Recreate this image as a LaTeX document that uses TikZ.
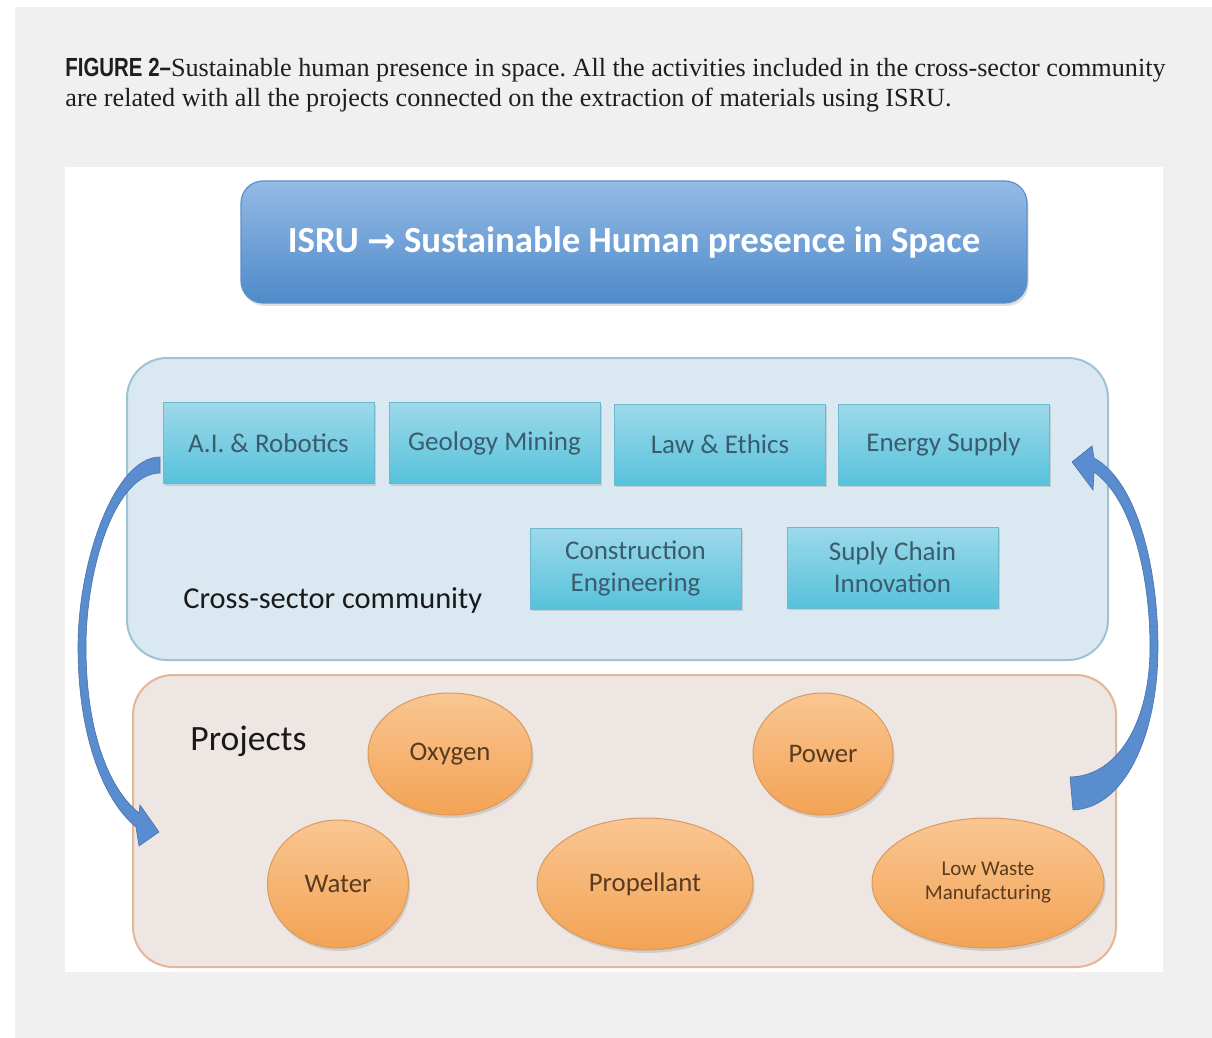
\documentclass[tikz,border=0pt]{standalone}
\usepackage{fontspec}
\setmainfont{Liberation Serif}
\newfontfamily\carlito{Carlito}
\newfontfamily\capfont{Liberation Sans}[FakeStretch=0.78]
\newfontfamily\arrowfont{DejaVu Sans}
\usetikzlibrary{shapes.geometric,shadows}
\frenchspacing

\definecolor{pagegray}{HTML}{F0F0F0}
\definecolor{titletop}{HTML}{95BAE5}
\definecolor{titlebot}{HTML}{4E8ACA}
\definecolor{titledraw}{HTML}{5E90C8}
\definecolor{commfill}{HTML}{DAE9F1}
\definecolor{commdraw}{HTML}{9DC3D5}
\definecolor{celltop}{HTML}{9DD9EA}
\definecolor{cellbot}{HTML}{57C2DB}
\definecolor{celldraw}{HTML}{6CB8CE}
\definecolor{celltext}{HTML}{3A5C6C}
\definecolor{projfill}{HTML}{EEE6E2}
\definecolor{projdraw}{HTML}{E5B597}
\definecolor{elltop}{HTML}{F9C692}
\definecolor{ellbot}{HTML}{F3A354}
\definecolor{elldraw}{HTML}{D99A5C}
\definecolor{elltext}{HTML}{5A3B1F}
\definecolor{arrowblue}{HTML}{5A8DD0}
\definecolor{captioncol}{HTML}{1E1E1E}

\tikzset{
  captext/.style={anchor=base west, inner sep=0pt, text=captioncol,
    font=\fontsize{13.1}{16}\selectfont},
  titlebox/.style={rectangle, rounded corners=11pt, draw=titledraw, line width=0.6pt,
    top color=titletop, bottom color=titlebot,
    minimum width=393pt, minimum height=61pt, text=white,
    font=\carlito\bfseries\fontsize{18.4}{22}\selectfont,
    drop shadow={opacity=0.25, shadow xshift=0.8pt, shadow yshift=-1.5pt}},
  panel/.style={rectangle, rounded corners=20pt, line width=1pt, inner sep=0pt},
  cell/.style={rectangle, draw=celldraw, line width=0.5pt,
    top color=celltop, bottom color=cellbot, text=celltext,
    minimum width=105.5pt, minimum height=40.5pt, inner sep=0pt, align=center,
    font=\carlito\fontsize{13.5}{16}\selectfont,
    drop shadow={opacity=0.25, shadow xshift=0.8pt, shadow yshift=-1.2pt}},
  proj/.style={ellipse, draw=elldraw, line width=0.5pt,
    top color=elltop, bottom color=ellbot, text=elltext, inner sep=0pt, align=center,
    font=\carlito\fontsize{13.4}{16}\selectfont,
    drop shadow={opacity=0.25, shadow xshift=0.8pt, shadow yshift=-1.5pt}},
  grouplabel/.style={anchor=west, inner sep=0pt, text=black!90},
  blockarrow/.style={fill=arrowblue, draw=arrowblue!80!black, line width=0.3pt}
}

\begin{document}
\begin{tikzpicture}[x=0.5pt,y=-0.5pt]
\useasboundingbox (0,0) rectangle (1212,1038);
% page and figure panel
\fill[white] (0,0) rectangle (1212,1038);
\fill[pagegray] (15,7) rectangle (1212,1038);
\fill[white] (65,167) rectangle (1163,972);

% caption
\node[captext] (cap1) at (65,77)
  {{\capfont\bfseries FIGURE 2–}Sustainable human presence in space. All the activities included in the cross-sector community};
\node[captext] (cap2) at (65,107)
  {are related with all the projects connected on the extraction of materials using ISRU.};

% headline
\node[titlebox] (title) at (634,242)
  {ISRU {\arrowfont\bfseries\fontsize{17}{20}\selectfont →} Sustainable Human presence in Space};

% group panels
\node[panel, draw=commdraw, fill=commfill, minimum width=490.5pt, minimum height=151pt]
  (community) at (617.5,509) {};
\node[panel, draw=projdraw, fill=projfill, minimum width=491.5pt, minimum height=146pt]
  (projects) at (624.5,821) {};

% cross-sector activities
\node[cell] (ai)     at (268.5,443)   {A.I. \& Robotics};
\node[cell] (geo)    at (494.5,443)   {Geology Mining};
\node[cell] (law)    at (720,444.5)   {Law \& Ethics};
\node[cell] (energy) at (943.5,444.5) {Energy Supply};
\node[cell] (cons)   at (635.5,568.5) {Construction\\Engineering};
\node[cell] (supply) at (892.5,567.5) {Suply Chain\\Innovation};
\node[grouplabel, font=\carlito\fontsize{15.2}{18}\selectfont] (commlabel) at (183,600) {Cross-sector community};

% projects
\node[grouplabel, font=\carlito\fontsize{17.8}{20}\selectfont] (projlabel) at (190,741) {Projects};
\node[proj, minimum width=82pt, minimum height=61pt]  (oxygen)     at (450,754) {Oxygen};
\node[proj, minimum width=70pt, minimum height=61pt]  (power)      at (823,754) {Power};
\node[proj, minimum width=70.5pt, minimum height=64pt] (water)     at (338,884) {Water};
\node[proj, minimum width=108pt, minimum height=66pt] (propellant) at (645,884) {Propellant};
\node[proj, minimum width=116pt, minimum height=65pt, font=\carlito\fontsize{10.5}{12}\selectfont]
  (lowwaste) at (988,883) {Low Waste\\Manufacturing};

% curved arrow: community -> projects (left side)
\path[blockarrow]
  (160,457) .. controls (115,457) and (78,560) .. (78,647)
            .. controls (78,735) and (103,800) .. (136,827)
  -- (139,846) -- (159,832) -- (140,805) -- (139,813)
            .. controls (108,788) and (86,730) .. (86,647)
            .. controls (86,568) and (115,474) .. (160,473) -- cycle;

% curved arrow: projects -> community (right side)
\path[blockarrow]
  (1072,462) -- (1092,446) -- (1094,458)
            .. controls (1138,482) and (1158,570) .. (1158,647)
            .. controls (1158,735) and (1125,808) .. (1073,810)
  -- (1070,777)
            .. controls (1118,776) and (1150,722) .. (1150,647)
            .. controls (1150,578) and (1133,500) .. (1094,472)
  -- (1093,490) -- cycle;
\end{tikzpicture}
\end{document}
